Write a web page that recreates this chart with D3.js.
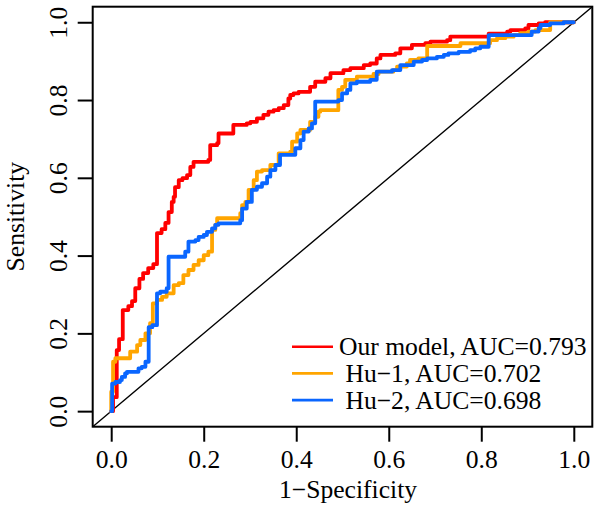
<!DOCTYPE html>
<html>
<head>
<meta charset="utf-8">
<script src="https://cdn.jsdelivr.net/npm/d3@7"></script>
<style>
  html, body { margin: 0; padding: 0; background: #fff; }
  svg { display: block; font-family: "Liberation Serif", "Times New Roman", serif; }
</style>
</head>
<body>
<svg id="chart" width="600" height="514"></svg>
<script>
// ---- Data ----
const xTicks = [0, 0.2, 0.4, 0.6, 0.8, 1.0];
const yTicks = [0, 0.2, 0.4, 0.6, 0.8, 1.0];
const xTitle = "1\u2212Specificity";
const yTitle = "Sensitivity";

const modelNames = ["Our model, AUC=0.793", " Hu\u22121, AUC=0.702", " Hu\u22122, AUC=0.698"];
const modelColors = ["#ff0000", "#ffa500", "#0a66ff"];

const ourFpr = [0,0.004,0.012,0.017,0.025,0.037,0.045,0.052,0.061,0.069,0.08,0.091,0.099,0.109,0.117,0.124,0.131,0.135,0.138,0.146,0.154,0.164,0.171,0.178,0.21,0.214,0.229,0.232,0.264,0.293,0.301,0.315,0.329,0.34,0.351,0.362,0.373,0.383,0.387,0.394,0.405,0.43,0.441,0.463,0.474,0.502,0.517,0.546,0.56,0.574,0.582,0.614,0.625,0.65,0.679,0.69,0.726,0.733,0.816,0.856,0.863,0.895,0.902,0.924,0.938,1];
const ourTpr = [0,0.036,0.157,0.185,0.26,0.27,0.283,0.316,0.34,0.355,0.368,0.378,0.458,0.468,0.484,0.512,0.538,0.551,0.576,0.594,0.599,0.607,0.628,0.641,0.646,0.684,0.689,0.714,0.736,0.74,0.744,0.753,0.762,0.77,0.774,0.779,0.787,0.804,0.813,0.817,0.821,0.834,0.847,0.856,0.869,0.877,0.882,0.89,0.894,0.907,0.916,0.92,0.933,0.942,0.946,0.95,0.954,0.963,0.971,0.976,0.98,0.984,0.993,0.997,1,1];

const hu1Fpr = [0,0,0.004,0.009,0.041,0.056,0.063,0.074,0.084,0.09,0.099,0.11,0.12,0.135,0.146,0.156,0.167,0.178,0.189,0.2,0.21,0.218,0.225,0.229,0.279,0.283,0.29,0.297,0.308,0.315,0.326,0.344,0.362,0.387,0.391,0.402,0.409,0.43,0.441,0.448,0.452,0.491,0.499,0.506,0.531,0.567,0.578,0.61,0.618,0.639,0.646,0.664,0.683,0.755,0.819,0.834,0.852,0.87,0.884,0.902,0.917,0.949,1];
const hu1Tpr = [0,0.05,0.127,0.136,0.153,0.17,0.183,0.2,0.226,0.277,0.286,0.294,0.303,0.324,0.329,0.35,0.363,0.376,0.388,0.401,0.41,0.466,0.479,0.496,0.509,0.53,0.538,0.569,0.594,0.616,0.62,0.633,0.663,0.667,0.693,0.714,0.723,0.744,0.757,0.77,0.774,0.826,0.834,0.852,0.86,0.867,0.873,0.877,0.886,0.894,0.903,0.907,0.939,0.946,0.954,0.959,0.963,0.967,0.972,0.976,0.98,1,1];

const hu2Fpr = [0,0.002,0.009,0.019,0.023,0.03,0.034,0.059,0.066,0.074,0.081,0.089,0.099,0.106,0.12,0.124,0.16,0.167,0.182,0.189,0.2,0.207,0.218,0.225,0.232,0.279,0.283,0.293,0.304,0.315,0.326,0.337,0.344,0.355,0.365,0.398,0.409,0.416,0.427,0.434,0.441,0.491,0.499,0.51,0.517,0.531,0.56,0.574,0.607,0.625,0.654,0.672,0.683,0.704,0.719,0.729,0.751,0.776,0.787,0.798,0.816,0.909,0.924,0.928,0.949,0.978,1];
const hu2Tpr = [0,0.071,0.075,0.08,0.088,0.097,0.101,0.11,0.114,0.127,0.216,0.221,0.303,0.307,0.316,0.397,0.41,0.436,0.44,0.448,0.453,0.461,0.47,0.479,0.483,0.491,0.521,0.538,0.569,0.577,0.586,0.603,0.62,0.633,0.659,0.676,0.697,0.719,0.727,0.74,0.796,0.8,0.817,0.826,0.843,0.847,0.852,0.873,0.877,0.89,0.899,0.903,0.907,0.911,0.916,0.92,0.924,0.928,0.933,0.937,0.967,0.976,0.985,0.993,0.997,1,1];

const curves = [
  { fpr: ourFpr, tpr: ourTpr },
  { fpr: hu1Fpr, tpr: hu1Tpr },
  { fpr: hu2Fpr, tpr: hu2Tpr }
];

// ---- Layout ----
const svg = d3.select("#chart");
const plotL = 92.7, plotR = 592.3, plotT = 6.7, plotB = 426.7;
const FONT = 25.6;

const x = d3.scaleLinear().domain([-0.04, 1.04]).range([plotL, plotR]);
const y = d3.scaleLinear().domain([-0.04, 1.04]).range([plotB, plotT]);

// Diagonal reference line
svg.append("line")
  .attr("x1", x(-0.04)).attr("y1", y(-0.04))
  .attr("x2", x(1.04)).attr("y2", y(1.04))
  .attr("stroke", "#000").attr("stroke-width", 1.4);

// ROC curves
const line = d3.line()
  .x(d => x(d[0])).y(d => y(d[1]))
  .curve(d3.curveStepAfter);

curves.forEach((c, i) => {
  const pts = c.fpr.map((f, k) => [f, c.tpr[k]]);
  svg.append("path")
    .datum(pts)
    .attr("d", line)
    .attr("fill", "none")
    .attr("stroke", modelColors[i])
    .attr("stroke-width", 3.8)
    .attr("stroke-linejoin", "round")
    .attr("stroke-linecap", "round");
});

// Box
svg.append("rect")
  .attr("x", plotL).attr("y", plotT)
  .attr("width", plotR - plotL).attr("height", plotB - plotT)
  .attr("fill", "none").attr("stroke", "#000").attr("stroke-width", 2);

// X axis
const gx = svg.append("g")
  .attr("transform", `translate(0,${plotB})`)
  .call(d3.axisBottom(x).tickValues(xTicks).tickFormat(d3.format(".1f")).tickSize(15).tickSizeOuter(0));
gx.select(".domain").remove();
gx.selectAll(".tick line").attr("stroke", "#000").attr("stroke-width", 2);
gx.selectAll(".tick text")
  .attr("y", 41.5).attr("dy", 0)
  .attr("font-size", FONT)
  .attr("font-family", "Liberation Serif, Times New Roman, serif")
  .attr("fill", "#000");

// Y axis
const gy = svg.append("g")
  .attr("transform", `translate(${plotL},0)`)
  .call(d3.axisLeft(y).tickValues(yTicks).tickFormat(d3.format(".1f")).tickSize(15).tickSizeOuter(0));
gy.select(".domain").remove();
gy.selectAll(".tick line").attr("stroke", "#000").attr("stroke-width", 2);
gy.selectAll(".tick text")
  .attr("transform", "rotate(-90)")
  .attr("x", 0).attr("y", -26).attr("dy", 0)
  .attr("text-anchor", "middle")
  .attr("font-size", FONT)
  .attr("font-family", "Liberation Serif, Times New Roman, serif")
  .attr("fill", "#000");

// Axis titles
svg.append("text")
  .attr("x", 348).attr("y", 498)
  .attr("text-anchor", "middle")
  .attr("font-size", FONT)
  .text(xTitle);

svg.append("text")
  .attr("transform", `translate(24,${(plotT + plotB) / 2}) rotate(-90)`)
  .attr("text-anchor", "middle")
  .attr("font-size", FONT)
  .text(yTitle);

// Legend
const legend = svg.append("g");
modelNames.forEach((name, i) => {
  const ly = 346.7 + i * 26.7;
  legend.append("line")
    .attr("x1", 292).attr("x2", 333)
    .attr("y1", ly).attr("y2", ly)
    .attr("stroke", modelColors[i]).attr("stroke-width", 2.6);
  legend.append("text")
    .attr("x", 339).attr("y", ly + 8.4)
    .attr("font-size", FONT)
    .style("white-space", "pre")
    .text(name);
});
</script>
</body>
</html>
